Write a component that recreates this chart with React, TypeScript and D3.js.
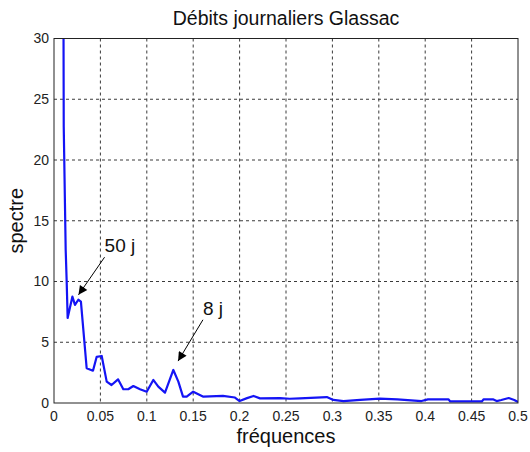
import * as d3 from "d3";
import { useEffect, useRef } from "react";

// spectrum (first point runs off the top of the axes)
const freqs = [
  0.0098, 0.0105, 0.0126, 0.0137, 0.0147, 0.0198, 0.0226, 0.0262, 0.029,
  0.0352, 0.042, 0.046, 0.0514, 0.0568, 0.062, 0.069, 0.0747, 0.08, 0.0855,
  0.0927, 0.0999, 0.107, 0.1124, 0.1196, 0.1286, 0.134, 0.139, 0.143, 0.15,
  0.161, 0.182, 0.195, 0.2, 0.208, 0.215, 0.222, 0.2435, 0.254, 0.265, 0.294,
  0.301, 0.312, 0.33, 0.351, 0.37, 0.396, 0.403, 0.425, 0.427, 0.461, 0.463,
  0.473, 0.477, 0.482, 0.49, 0.496, 0.5,
];
const spectre = [
  45, 22.7, 12.6, 9.9, 7.0, 8.75, 8.07, 8.5, 8.35, 2.86, 2.66, 3.8, 3.87,
  1.76, 1.48, 1.95, 1.13, 1.13, 1.4, 1.13, 0.93, 1.9, 1.35, 0.85, 2.72, 1.76,
  0.52, 0.52, 0.93, 0.52, 0.58, 0.45, 0.16, 0.4, 0.58, 0.38, 0.4, 0.35, 0.38,
  0.49, 0.25, 0.16, 0.25, 0.36, 0.3, 0.16, 0.3, 0.3, 0.13, 0.13, 0.3, 0.3,
  0.16, 0.25, 0.41, 0.25, 0.08,
];
const xTicks = [0, 0.05, 0.1, 0.15, 0.2, 0.25, 0.3, 0.35, 0.4, 0.45, 0.5];
const yTicks = [0, 5, 10, 15, 20, 25, 30];

// annotations: label, arrow tip (data coords), arrow tail / label anchor (data coords)
const notes = [
  { label: "50 j", tip: [0.0264, 8.9], at: [0.0545, 12.0] },
  { label: "8 j", tip: [0.1337, 3.45], at: [0.1605, 6.85] },
];

const W = 530;
const H = 452;
const M = { top: 38.5, right: 12, bottom: 49, left: 54 };
const BLUE = "#1414f5";
const FONT = "Arial, 'Liberation Sans', Helvetica, sans-serif";

export default function App() {
  const svgRef = useRef<SVGSVGElement>(null);

  useEffect(() => {
    const svg = d3.select(svgRef.current);
    svg.selectAll("*").remove();

    const innerW = W - M.left - M.right;
    const innerH = H - M.top - M.bottom;

    const x = d3.scaleLinear().domain([0, 0.5]).range([0, innerW]);
    const y = d3.scaleLinear().domain([0, 30]).range([innerH, 0]);

    const defs = svg.append("defs");
    defs
      .append("clipPath")
      .attr("id", "plotClip")
      .append("rect")
      .attr("width", innerW)
      .attr("height", innerH);
    defs
      .append("marker")
      .attr("id", "head")
      .attr("viewBox", "0 0 10 10")
      .attr("refX", 10)
      .attr("refY", 5)
      .attr("markerUnits", "userSpaceOnUse")
      .attr("markerWidth", 11)
      .attr("markerHeight", 9)
      .attr("orient", "auto")
      .append("path")
      .attr("d", "M0,0 L10,5 L0,10 z")
      .attr("fill", "#000");

    svg.append("rect").attr("width", W).attr("height", H).attr("fill", "#fff");

    const g = svg
      .append("g")
      .attr("transform", `translate(${M.left},${M.top})`);

    // dashed grid
    g.selectAll(".vgrid")
      .data(xTicks.slice(1, -1))
      .enter()
      .append("line")
      .attr("x1", (d) => x(d))
      .attr("x2", (d) => x(d))
      .attr("y1", 0)
      .attr("y2", innerH)
      .attr("stroke", "#3a3a3a")
      .attr("stroke-width", 1)
      .attr("stroke-dasharray", "3,3");
    g.selectAll(".hgrid")
      .data(yTicks.slice(1, -1))
      .enter()
      .append("line")
      .attr("x1", 0)
      .attr("x2", innerW)
      .attr("y1", (d) => y(d))
      .attr("y2", (d) => y(d))
      .attr("stroke", "#3a3a3a")
      .attr("stroke-width", 1)
      .attr("stroke-dasharray", "3,3");

    // spectrum line
    const pts = freqs.map((f, i) => [f, spectre[i]] as [number, number]);
    const line = d3
      .line<[number, number]>()
      .x((d) => x(d[0]))
      .y((d) => y(d[1]));
    g.append("path")
      .datum(pts)
      .attr("clip-path", "url(#plotClip)")
      .attr("fill", "none")
      .attr("stroke", BLUE)
      .attr("stroke-width", 2.2)
      .attr("stroke-linejoin", "round")
      .attr("d", line);

    // axes box
    g.append("rect")
      .attr("width", innerW)
      .attr("height", innerH)
      .attr("fill", "none")
      .attr("stroke", "#222")
      .attr("stroke-width", 1);

    // tick labels
    g.selectAll(".xl")
      .data(xTicks)
      .enter()
      .append("text")
      .attr("x", (d) => x(d))
      .attr("y", innerH + 18)
      .attr("text-anchor", "middle")
      .attr("font-family", FONT)
      .attr("font-size", 14)
      .attr("fill", "#222")
      .text((d) => String(d));
    g.selectAll(".yl")
      .data(yTicks)
      .enter()
      .append("text")
      .attr("x", -5)
      .attr("y", (d) => y(d))
      .attr("dy", "0.35em")
      .attr("text-anchor", "end")
      .attr("font-family", FONT)
      .attr("font-size", 14)
      .attr("fill", "#222")
      .text((d) => String(d));

    // annotations
    notes.forEach((n) => {
      const tx = x(n.tip[0]);
      const ty = y(n.tip[1]);
      const ax = x(n.at[0]);
      const ay = y(n.at[1]);
      g.append("line")
        .attr("x1", ax)
        .attr("y1", ay)
        .attr("x2", tx)
        .attr("y2", ty)
        .attr("stroke", "#000")
        .attr("stroke-width", 1)
        .attr("marker-end", "url(#head)");
      g.append("text")
        .attr("x", ax)
        .attr("y", ay - 5)
        .attr("font-family", FONT)
        .attr("font-size", 19)
        .attr("fill", "#111")
        .text(n.label);
    });

    // titles
    svg
      .append("text")
      .attr("x", M.left + innerW / 2)
      .attr("y", 25)
      .attr("text-anchor", "middle")
      .attr("font-family", FONT)
      .attr("font-size", 19.5)
      .attr("fill", "#111")
      .text("Débits journaliers Glassac");
    svg
      .append("text")
      .attr("x", M.left + innerW / 2)
      .attr("y", 443)
      .attr("text-anchor", "middle")
      .attr("font-family", FONT)
      .attr("font-size", 20)
      .attr("fill", "#111")
      .text("fréquences");
    svg
      .append("text")
      .attr("transform", `translate(23,${M.top + innerH / 2}) rotate(-90)`)
      .attr("text-anchor", "middle")
      .attr("font-family", FONT)
      .attr("font-size", 20)
      .attr("fill", "#111")
      .text("spectre");
  }, []);

  return (
    <svg
      ref={svgRef}
      width={W}
      height={H}
      style={{ position: "absolute", left: 0, top: 0, display: "block" }}
    />
  );
}
